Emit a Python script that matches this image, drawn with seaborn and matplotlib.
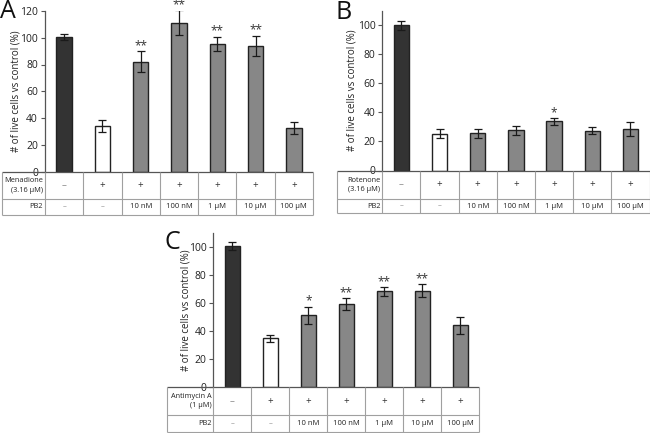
import numpy as np
import pandas as pd
import matplotlib
matplotlib.use("Agg")
import matplotlib.pyplot as plt
import seaborn as sns

# ---------------- data ----------------
groups = ["control", "toxin", "10 nM", "100 nM", "1 µM", "10 µM", "100 µM"]
pb2_labels = ["–", "–", "10 nM", "100 nM", "1 µM", "10 µM", "100 µM"]
toxin_marks = ["–", "+", "+", "+", "+", "+", "+"]
bar_colors = ["#333333", "#ffffff", "#878787", "#878787", "#878787", "#878787", "#878787"]

a_values = [100.4, 33.9, 82.1, 111.2, 95.4, 93.9, 32.4]
a_errors = [2.4, 4.3, 8.0, 9.3, 5.5, 7.7, 4.3]
a_stars = ["", "", "**", "**", "**", "**", ""]

b_values = [100.0, 25.3, 25.8, 27.6, 33.9, 27.4, 28.6]
b_errors = [3.2, 3.2, 3.1, 3.2, 2.5, 2.3, 4.8]
b_stars = ["", "", "", "", "*", "", ""]

c_values = [100.5, 34.8, 51.2, 59.2, 68.2, 68.7, 44.1]
c_errors = [2.8, 2.4, 6.2, 4.1, 3.2, 4.6, 5.9]
c_stars = ["", "", "*", "**", "**", "**", ""]

a_ticks = [0, 20, 40, 60, 80, 100, 120]
bc_ticks = [0, 20, 40, 60, 80, 100]

ylabel = "# of live cells vs control (%)"

# ---------------- style ----------------
sns.set_theme(style="white")
plt.rcParams["font.family"] = ["Open Sans", "DejaVu Sans"]

W, H = 650, 433
fig = plt.figure(figsize=(W / 100, H / 100), dpi=100)


def box(x0, y0, x1, y1):
    return [x0 / W, 1 - y1 / H, (x1 - x0) / W, (y1 - y0) / H]


panels = [
    dict(letter="A", values=a_values, errors=a_errors, stars=a_stars, ticks=a_ticks,
         ymax=120, ax=(45, 11, 313, 171.5), tleft=2, tmid=199, tbot=215,
         toxin=("Menadione", "(3.16 µM)"), ylab_x=22, let=(0, -1)),
    dict(letter="B", values=b_values, errors=b_errors, stars=b_stars, ticks=bc_ticks,
         ymax=110, ax=(382.3, 10.8, 649.5, 170.5), tleft=337, tmid=199.3, tbot=213,
         toxin=("Rotenone", "(3.16 µM)"), ylab_x=358, let=(336, 0)),
    dict(letter="C", values=c_values, errors=c_errors, stars=c_stars, ticks=bc_ticks,
         ymax=110, ax=(213.3, 232.6, 479.3, 387.3), tleft=167, tmid=415, tbot=431.7,
         toxin=("Antimycin A", "(1 µM)"), ylab_x=192, let=(165, 230)),
]

line_gray = "#a0a0a0"
axis_col = "#555555"

for p in panels:
    x0, y0, x1, y1 = p["ax"]
    ax = fig.add_axes(box(x0, y0, x1, y1))
    df = pd.DataFrame({"group": groups, "value": p["values"]})
    sns.barplot(data=df, x="group", y="value", hue="group", order=groups,
                hue_order=groups, palette=dict(zip(groups, bar_colors)),
                legend=False, width=0.4, saturation=1, errorbar=None,
                edgecolor="#222222", linewidth=1.0, ax=ax)
    xs = np.arange(len(groups))
    ax.errorbar(xs, p["values"], yerr=p["errors"], fmt="none", ecolor="#1a1a1a",
                elinewidth=0.9, capsize=2.9, capthick=0.9, zorder=5)
    for xi, v, e, s in zip(xs, p["values"], p["errors"], p["stars"]):
        if s:
            ax.text(xi, v + e - 0.8, s, ha="center", va="bottom", fontsize=8.5,
                    color="#333333", clip_on=False)
    ax.set_xlim(-0.5, len(groups) - 0.5)
    ax.set_ylim(0, p["ymax"])
    ax.set_yticks(p["ticks"])
    ax.set_xticks([])
    ax.set_xlabel("")
    ax.set_ylabel(ylabel, fontsize=7, color="#222222")
    ax.yaxis.set_label_coords(-(x0 - p["ylab_x"]) / (x1 - x0), 0.5)
    ax.tick_params(axis="y", which="major", left=True, length=3, width=0.8,
                   color=axis_col, labelsize=7.5, pad=2, labelcolor="#222222")
    for sp in ["top", "right", "bottom"]:
        ax.spines[sp].set_visible(False)
    ax.spines["left"].set_color(axis_col)
    ax.spines["left"].set_linewidth(0.9)
    ax.patch.set_alpha(0)

    # table below
    colw = (x1 - x0) / len(groups)
    tax = fig.add_axes(box(p["tleft"], y1, x1, p["tbot"]))
    xmin = -0.5 - (x0 - p["tleft"]) / colw
    tax.set_xlim(xmin, len(groups) - 0.5)
    tax.set_ylim(p["tbot"], y1)
    tax.axis("off")
    kw = dict(clip_on=False, solid_capstyle="butt")
    tax.plot([xmin, len(groups) - 0.5], [y1, y1], color=axis_col, lw=0.9, **kw)
    tax.plot([xmin, len(groups) - 0.5], [p["tmid"], p["tmid"]], color=line_gray, lw=0.8, **kw)
    tax.plot([xmin, len(groups) - 0.5], [p["tbot"], p["tbot"]], color=line_gray, lw=0.8, **kw)
    for xv in [xmin] + list(np.arange(len(groups) + 1) - 0.5):
        tax.plot([xv, xv], [y1, p["tbot"]], color=line_gray, lw=0.8, **kw)
    r1 = (y1 + p["tmid"]) / 2
    r2 = (p["tmid"] + p["tbot"]) / 2
    lab_x = -0.5 - 2 / colw
    tax.text(lab_x, r1, p["toxin"][0] + "\n" + p["toxin"][1], ha="right", va="center",
             fontsize=5.3, color="#222222", linespacing=1.5)
    tax.text(lab_x, r2, "PB2", ha="right", va="center", fontsize=5.3, color="#222222")
    for xi, tm, pl in zip(xs, toxin_marks, pb2_labels):
        tax.text(xi, r1, tm, ha="center", va="center", fontsize=7,
                 color="#888888" if tm == "–" else "#333333")
        tax.text(xi, r2, pl, ha="center", va="center", fontsize=5.5,
                 color="#888888" if pl == "–" else "#222222")

    lx, ly = p["let"]
    fig.text(lx / W, 1 - ly / H, p["letter"], ha="left", va="top", fontsize=18,
             color="#111111")

fig.savefig("out.png", dpi=100)
